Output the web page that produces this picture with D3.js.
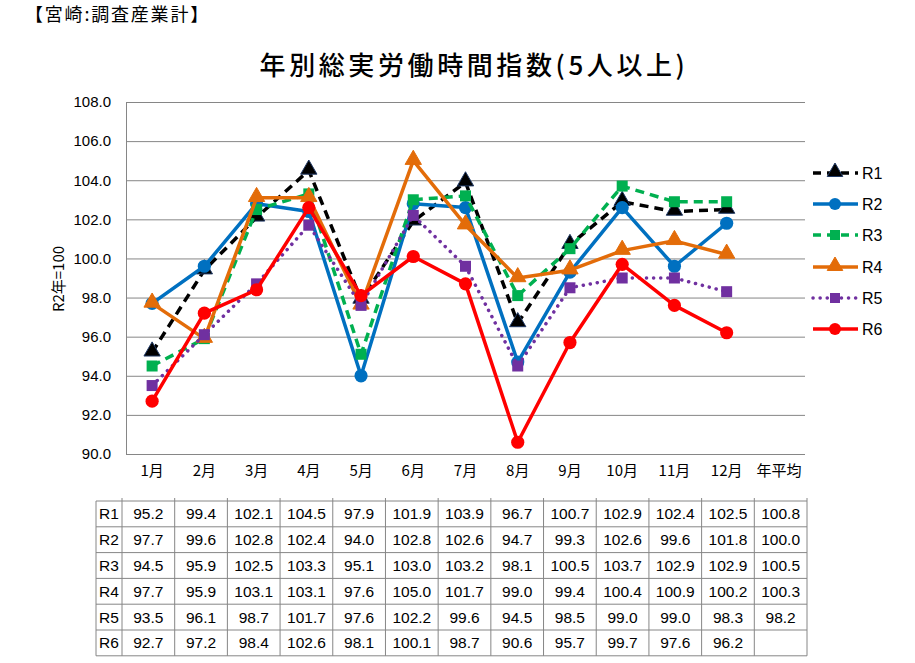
<!DOCTYPE html>
<html><head><meta charset="utf-8">
<script src="https://cdn.jsdelivr.net/npm/d3@7"></script>
<style>body{margin:0;background:#fff;}svg{display:block;font-family:"Liberation Sans","Noto Sans CJK JP",sans-serif;}</style>
</head><body>
<svg id="c" width="915" height="663"></svg>
<script>
const categories = ["1月","2月","3月","4月","5月","6月","7月","8月","9月","10月","11月","12月","年平均"];
const seriesNames = ["R1","R2","R3","R4","R5","R6"];
const R1 = [95.2,99.4,102.1,104.5,97.9,101.9,103.9,96.7,100.7,102.9,102.4,102.5,100.8];
const R2 = [97.7,99.6,102.8,102.4,94.0,102.8,102.6,94.7,99.3,102.6,99.6,101.8,100.0];
const R3 = [94.5,95.9,102.5,103.3,95.1,103.0,103.2,98.1,100.5,103.7,102.9,102.9,100.5];
const R4 = [97.7,95.9,103.1,103.1,97.6,105.0,101.7,99.0,99.4,100.4,100.9,100.2,100.3];
const R5 = [93.5,96.1,98.7,101.7,97.6,102.2,99.6,94.5,98.5,99.0,99.0,98.3,98.2];
const R6 = [92.7,97.2,98.4,102.6,98.1,100.1,98.7,90.6,95.7,99.7,97.6,96.2,null];
const yTicks = [90,92,94,96,98,100,102,104,106,108];

const seriesData = [R1,R2,R3,R4,R5,R6];
const styles = [
  {color:"#000000", dash:"9,6", marker:"triangle", mfill:"#000000", mstroke:"#1f3864"},
  {color:"#0070C0", dash:null, marker:"circle", mfill:"#0070C0", mstroke:"#0070C0"},
  {color:"#00B050", dash:"9,6", marker:"square", mfill:"#00B050", mstroke:"#00B050"},
  {color:"#E36C09", dash:null, marker:"triangle", mfill:"#E36C09", mstroke:"#E36C09"},
  {color:"#7030A0", dash:"0.1,7", marker:"square", mfill:"#7030A0", mstroke:"#7030A0", cap:"round"},
  {color:"#FF0000", dash:null, marker:"circle", mfill:"#FF0000", mstroke:"#FF0000"}
];

const svg = d3.select("#c");
const L=126, R=805, T=102, B=454;
const x = d3.scaleBand().domain(categories).range([L,R]);
const y = d3.scaleLinear().domain([90,108]).range([B,T]);

svg.append("text").attr("x",25).attr("y",21).attr("font-size",18).attr("letter-spacing",1.8)
  .attr("font-family","Noto Sans CJK JP").text("【宮崎:調査産業計】");
svg.append("text").attr("x",474).attr("y",75).attr("text-anchor","middle").attr("font-size",26).attr("font-weight",500)
  .attr("letter-spacing",3.6).attr("font-family","Noto Sans CJK JP").text("年別総実労働時間指数(5人以上)");

// grid
svg.append("g").selectAll("line").data(yTicks).join("line")
  .attr("x1",L).attr("x2",R).attr("y1",d=>y(d)+0.5).attr("y2",d=>y(d)+0.5)
  .attr("stroke","#868686").attr("stroke-width",1);
svg.append("line").attr("x1",L+0.5).attr("x2",L+0.5).attr("y1",T).attr("y2",B).attr("stroke","#868686");

// y axis labels
const yAxis = d3.axisLeft(y).tickValues(yTicks).tickFormat(d3.format(".1f")).tickSize(0).tickPadding(15);
const ga = svg.append("g").attr("transform",`translate(${L},0)`).call(yAxis);
ga.select(".domain").remove();
ga.selectAll("text").attr("font-size",15).attr("fill","#000").attr("font-family","Liberation Sans");

svg.append("text").attr("transform","translate(64,279) rotate(-90)").attr("text-anchor","middle")
  .attr("font-size",15).attr("font-family","Noto Sans CJK JP").text("R2年=100");

// x labels
const xAxis = d3.axisBottom(x).tickSize(0).tickPadding(11);
const gx = svg.append("g").attr("transform",`translate(0,${B})`).call(xAxis);
gx.select(".domain").remove();
gx.selectAll("text").attr("font-size",15).attr("fill","#000").attr("font-family","Noto Sans CJK JP");

const months = categories.slice(0,12);
function drawMarker(g, type, cx, cy, st, s){
  if(type==="triangle"){
    g.append("path").attr("d",d3.symbol(d3.symbolTriangle, s*10.5)()).attr("transform",`translate(${cx},${cy-1})`)
     .attr("fill",st.mfill).attr("stroke",st.mstroke).attr("stroke-width",1);
  } else if(type==="circle"){
    g.append("circle").attr("cx",cx).attr("cy",cy).attr("r",s*0.6).attr("fill",st.mfill);
  } else {
    g.append("rect").attr("x",cx-s/2).attr("y",cy-s/2).attr("width",s).attr("height",s).attr("fill",st.mfill);
  }
}
const line = d3.line().x((d,i)=>x(months[i])+x.bandwidth()/2).y(d=>y(d));
seriesData.forEach((vals,k)=>{
  const st = styles[k];
  const v = vals.slice(0,12);
  const g = svg.append("g");
  g.append("path").attr("d",line(v)).attr("fill","none").attr("stroke",st.color).attr("stroke-width",3.5)
   .attr("stroke-dasharray",st.dash).attr("stroke-linecap",st.cap||"butt").attr("stroke-linejoin","round");
  v.forEach((d,i)=>drawMarker(g, st.marker, x(months[i])+x.bandwidth()/2, y(d), st, 11));
});

// legend
const legY = [173,204,235,267,298,329];
seriesNames.forEach((n,k)=>{
  const st=styles[k]; const g=svg.append("g");
  const yy=legY[k];
  g.append("line").attr("x1",813).attr("x2",858).attr("y1",yy).attr("y2",yy).attr("stroke",st.color).attr("stroke-width",3.5)
   .attr("stroke-dasharray",st.dash?(k===4?"0.1,7":"8,6"):null).attr("stroke-linecap",st.cap||"butt");
  drawMarker(g, st.marker, 835, yy, st, 10);
  g.append("text").attr("x",862).attr("y",yy+6).attr("font-size",16).attr("font-family","Liberation Sans").text(n);
});

// table
const tL=96, tC=122, tR=807, tT=501, rowH=25.8;
const colW=(tR-tC)/13;
const tg=svg.append("g");
const nRows=6;
for(let r=0;r<=nRows;r++){
  tg.append("line").attr("x1",tL).attr("x2",tR).attr("y1",tT+r*rowH).attr("y2",tT+r*rowH).attr("stroke","#868686");
}
tg.append("line").attr("x1",tL).attr("x2",tL).attr("y1",tT).attr("y2",tT+nRows*rowH).attr("stroke","#868686");
for(let c=0;c<=13;c++){
  tg.append("line").attr("x1",tC+c*colW).attr("x2",tC+c*colW).attr("y1",tT-3).attr("y2",tT+nRows*rowH).attr("stroke","#868686");
}
seriesData.forEach((vals,r)=>{
  const cy=tT+r*rowH+rowH/2+5.5;
  tg.append("text").attr("x",tL+3).attr("y",cy).attr("font-size",15.5).text(seriesNames[r]);
  vals.forEach((v,c)=>{
    if(v==null) return;
    tg.append("text").attr("x",tC+c*colW+colW/2).attr("y",cy).attr("text-anchor","middle").attr("font-size",15.5).text(v.toFixed(1));
  });
});
</script>
</body></html>
